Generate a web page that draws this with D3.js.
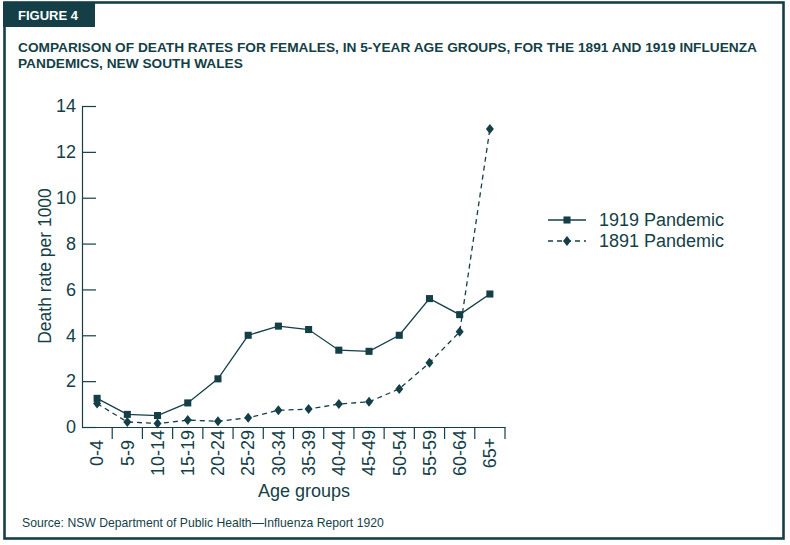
<!DOCTYPE html>
<html>
<head>
<meta charset="utf-8">
<script src="https://cdn.jsdelivr.net/npm/d3@7"></script>
<style>
  body { margin: 0; background: #fff; }
  svg { display: block; font-family: "Liberation Sans", Arial, sans-serif; }
</style>
</head>
<body>
<svg id="chart" width="790" height="545"></svg>
<script>
// Chart data
var ageGroups = ["0-4", "5-9", "10-14", "15-19", "20-24", "25-29", "30-34",
    "35-39", "40-44", "45-49", "50-54", "55-59", "60-64", "65+"];
var rates1919 = [1.25, 0.55, 0.5, 1.05, 2.1, 4.0, 4.4, 4.25, 3.35, 3.3, 4.0, 5.6, 4.9, 5.8];
var rates1891 = [1.02, 0.22, 0.15, 0.3, 0.25, 0.4, 0.73, 0.78, 1.0, 1.1, 1.66, 2.8, 4.15, 13.0];
var yTicks = [0, 2, 4, 6, 8, 10, 12, 14];
var seriesNames = ["1919 Pandemic", "1891 Pandemic"];

var ink = "#143f47";
var svg = d3.select("#chart");

// Frame and header
svg.append("rect")
    .attr("x", 4.5).attr("y", 2.5)
    .attr("width", 779).attr("height", 536)
    .attr("fill", "none")
    .attr("stroke", ink)
    .attr("stroke-width", 2.6);

svg.append("rect")
    .attr("x", 3).attr("y", 2)
    .attr("width", 92).attr("height", 25)
    .attr("fill", ink);

svg.append("text")
    .attr("x", 18).attr("y", 19.5)
    .attr("fill", "#fff")
    .attr("font-size", "13px")
    .attr("font-weight", "bold")
    .text("FIGURE 4");

var titleLines = ["COMPARISON OF DEATH RATES FOR FEMALES, IN 5-YEAR AGE GROUPS, FOR THE 1891 AND 1919 INFLUENZA",
    "PANDEMICS, NEW SOUTH WALES"];
svg.selectAll("text.title")
    .data(titleLines)
    .enter()
    .append("text")
    .attr("class", "title")
    .attr("x", 18)
    .attr("y", function (d, i) { return 52 + i * 16; })
    .attr("fill", ink)
    .attr("font-size", "13.7px")
    .attr("font-weight", "bold")
    .text(function (d) { return d; });

// Scales
var x = d3.scaleBand()
    .domain(ageGroups)
    .range([82, 505]);

var y = d3.scaleLinear()
    .domain([0, 14])
    .range([427, 106]);

// Y axis (ticks point inward)
var yAxis = svg.append("g")
    .attr("transform", "translate(82,0)")
    .call(d3.axisLeft(y).tickValues(yTicks).tickSizeInner(-14).tickSizeOuter(0).tickPadding(6));
yAxis.selectAll("text")
    .attr("font-size", "18px")
    .attr("fill", ink)
    .attr("font-family", null);
yAxis.selectAll("line, path").attr("stroke", ink).attr("stroke-width", 1.2);

// X axis, labels rotated, ticks on band boundaries
var xAxis = svg.append("g")
    .attr("transform", "translate(0,427)")
    .call(d3.axisBottom(x).tickSize(0).tickSizeOuter(0));
xAxis.select("path").attr("stroke", ink).attr("stroke-width", 1.2);
xAxis.selectAll("text")
    .attr("y", 0)
    .attr("x", 0)
    .attr("dy", "0.35em")
    .attr("transform", "translate(0,26) rotate(-90)")
    .attr("text-anchor", "middle")
    .attr("font-size", "18px")
    .attr("font-family", null)
    .attr("fill", ink);

svg.append("g")
    .selectAll("line")
    .data(ageGroups)
    .enter()
    .append("line")
    .attr("x1", function (d) { return x(d) + x.bandwidth(); })
    .attr("x2", function (d) { return x(d) + x.bandwidth(); })
    .attr("y1", 427)
    .attr("y2", 439)
    .attr("stroke", ink)
    .attr("stroke-width", 1.2);

// Axis titles
svg.append("text")
    .attr("transform", "translate(45,266) rotate(-90)")
    .attr("text-anchor", "middle")
    .attr("dy", "0.35em")
    .attr("font-size", "17.5px")
    .attr("fill", ink)
    .text("Death rate per 1000");

svg.append("text")
    .attr("x", 304).attr("y", 497)
    .attr("text-anchor", "middle")
    .attr("font-size", "18px")
    .attr("fill", ink)
    .text("Age groups");

// Lines
var cx = function (d, i) { return x(ageGroups[i]) + x.bandwidth() / 2; };
var line = d3.line()
    .x(cx)
    .y(function (d) { return y(d); });

svg.append("path")
    .datum(rates1919)
    .attr("d", line)
    .attr("fill", "none")
    .attr("stroke", ink)
    .attr("stroke-width", 1.3);

svg.append("path")
    .datum(rates1891)
    .attr("d", line)
    .attr("fill", "none")
    .attr("stroke", ink)
    .attr("stroke-width", 1.3)
    .attr("stroke-dasharray", "5,4");

// wider diamond than d3's built-in one
var wideDiamond = {
    draw: function (context, size) {
        var h = Math.sqrt(size / 0.8) / 2;
        var w = h * 0.8;
        context.moveTo(0, -h);
        context.lineTo(w, 0);
        context.lineTo(0, h);
        context.lineTo(-w, 0);
        context.closePath();
    }
};
var square = d3.symbol(d3.symbolSquare).size(50);
var diamond = d3.symbol(wideDiamond).size(80);

svg.append("g")
    .selectAll("path")
    .data(rates1919)
    .enter()
    .append("path")
    .attr("d", square)
    .attr("transform", function (d, i) { return "translate(" + cx(d, i) + "," + y(d) + ")"; })
    .attr("fill", ink);

svg.append("g")
    .selectAll("path")
    .data(rates1891)
    .enter()
    .append("path")
    .attr("d", diamond)
    .attr("transform", function (d, i) { return "translate(" + cx(d, i) + "," + y(d) + ")"; })
    .attr("fill", ink);

// Legend
var legend = svg.append("g").attr("transform", "translate(548,220)");
seriesNames.forEach(function (name, i) {
    var row = legend.append("g").attr("transform", "translate(0," + (i * 21) + ")");
    row.append("line")
        .attr("x1", 0).attr("x2", 38)
        .attr("stroke", ink)
        .attr("stroke-width", 1.3)
        .attr("stroke-dasharray", i === 0 ? null : "5,4");
    row.append("path")
        .attr("d", i === 0 ? square : diamond)
        .attr("transform", "translate(19,0)")
        .attr("fill", ink);
    row.append("text")
        .attr("x", 51)
        .attr("dy", "0.35em")
        .attr("font-size", "18px")
        .attr("fill", ink)
        .text(name);
});

// Source
svg.append("text")
    .attr("x", 22).attr("y", 527)
    .attr("font-size", "12.2px")
    .attr("fill", ink)
    .text("Source: NSW Department of Public Health\u2014Influenza Report 1920");
</script>
</body>
</html>
